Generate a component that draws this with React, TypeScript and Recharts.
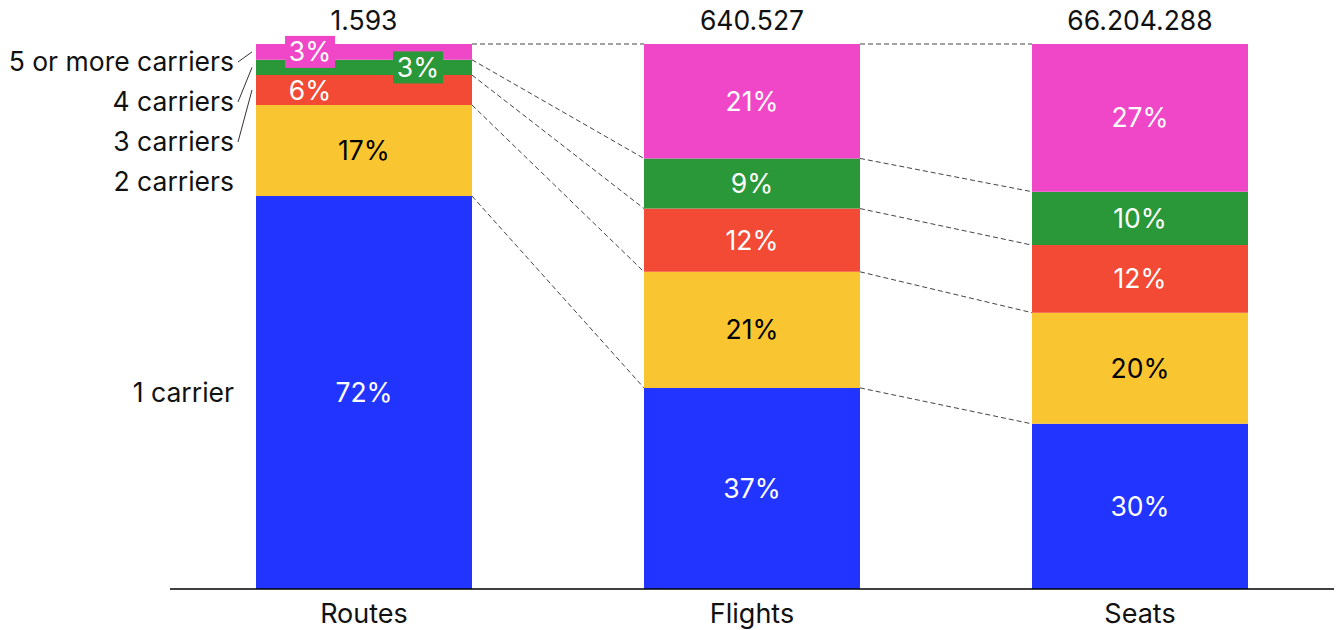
import { BarChart, Bar, XAxis, YAxis, Rectangle } from 'recharts';

const categories = ['Routes', 'Flights', 'Seats'];
const totals = ['1.593', '640.527', '66.204.288'];
const seriesNames = ['1 carrier', '2 carriers', '3 carriers', '4 carriers', '5 or more carriers'];

// share of each column (%), bottom to top
const oneCarrier = [72.1, 36.9, 30.3];
const twoCarriers = [16.7, 21.3, 20.4];
const threeCarriers = [5.5, 11.6, 12.4];
const fourCarriers = [2.8, 9.2, 9.8];
const fivePlusCarriers = [2.9, 21.0, 27.1];

const seriesValues = [oneCarrier, twoCarriers, threeCarriers, fourCarriers, fivePlusCarriers];
const seriesKeys = ['c1', 'c2', 'c3', 'c4', 'c5'];
const seriesColors = ['#2234ff', '#f9c632', '#f24a35', '#2a9838', '#f047c8'];
const labelColors = ['#fff', '#000', '#fff', '#fff', '#fff'];

const rows = categories.map((name, i) => {
  const row: Record<string, string | number> = { name };
  seriesKeys.forEach((key, k) => {
    row[key] = seriesValues[k][i];
  });
  return row;
});

const WIDTH = 1337;
const HEIGHT = 630;
const MARGIN = { top: 44, right: 3, bottom: 11, left: 170 };
const STEP = (WIDTH - MARGIN.left - MARGIN.right) / categories.length;
const FONT = 'Inter, "Noto Sans", sans-serif';
const FONT_SIZE = 26.5;

// thin segments get their label moved sideways (fraction of bar width), some on a colored tag
const thinSpots: Record<number, { dx: number; tag: boolean }> = {
  2: { dx: 0.25, tag: false },
  3: { dx: 0.75, tag: true },
  4: { dx: 0.25, tag: true },
};

const cumulative = (k: number, i: number) =>
  seriesValues.slice(0, k + 1).reduce((sum, arr) => sum + arr[i], 0);

const CategoryTick = (props: any) => {
  const { x, y, payload } = props;
  return (
    <text x={x} y={y + 34} textAnchor="middle" fontFamily={FONT} fontSize={27} fill="#111">
      {payload.value}
    </text>
  );
};

// top segment of every column also draws that column's annotations
const ColumnTop = (props: any) => {
  const { x, y, width, height, fill } = props;
  const i = typeof props.index === 'number' ? props.index : categories.indexOf(props.payload?.name);
  const top = seriesValues.length - 1;
  const ppu = height / seriesValues[top][i];
  const base = y + cumulative(top, i) * ppu;
  const segTop = (k: number, col: number) => base - cumulative(k, col) * ppu;
  const segMid = (k: number) => base - (cumulative(k, i) - seriesValues[k][i] / 2) * ppu;

  return (
    <g>
      <Rectangle x={x} y={y} width={width} height={height} fill={fill} />

      {i < categories.length - 1 &&
        seriesValues.map((_, k) => (
          <line
            key={`c${k}`}
            x1={x + width}
            y1={segTop(k, i)}
            x2={x + STEP}
            y2={segTop(k, i + 1)}
            stroke="#444"
            strokeWidth={1}
            strokeDasharray="5 3"
          />
        ))}

      {seriesValues.map((arr, k) => {
        const segHeight = arr[i] * ppu;
        const spot = segHeight < 40 ? thinSpots[k] : undefined;
        const cx = spot ? x + width * spot.dx : x + width / 2;
        const cy = segMid(k);
        return (
          <g key={`l${k}`}>
            {spot?.tag && <rect x={cx - 25} y={cy - 16} width={50} height={32} fill={seriesColors[k]} />}
            <text
              x={cx}
              y={cy}
              dy="0.36em"
              textAnchor="middle"
              fontFamily={FONT}
              fontSize={FONT_SIZE}
              fill={labelColors[k]}
            >
              {`${Math.round(arr[i])}%`}
            </text>
          </g>
        );
      })}

      <text x={x + width / 2} y={y - 14} textAnchor="middle" fontFamily={FONT} fontSize={FONT_SIZE} fill="#111">
        {totals[i]}
      </text>

      {i === 0 &&
        seriesNames.map((name, k) => {
          const ly = k === 0 ? segMid(0) : y + 17 + 40 * (top - k);
          return (
            <g key={`n${k}`}>
              <text
                x={x - 22}
                y={ly}
                dy="0.36em"
                textAnchor="end"
                fontFamily={FONT}
                fontSize={FONT_SIZE}
                fill="#111"
              >
                {name}
              </text>
              {k >= 2 && <line x1={x - 18} y1={ly + 1} x2={x - 4} y2={segMid(k)} stroke="#333" strokeWidth={1} />}
            </g>
          );
        })}
    </g>
  );
};

export default function App() {
  return (
    <div style={{ position: 'absolute', left: 0, top: 0, width: WIDTH, height: HEIGHT, background: '#fff' }}>
      <BarChart width={WIDTH} height={HEIGHT} data={rows} margin={MARGIN} barSize={216}>
        <XAxis
          dataKey="name"
          height={30}
          axisLine={{ stroke: '#000', strokeWidth: 1.5 }}
          tickLine={false}
          tickSize={0}
          tickMargin={0}
          tick={<CategoryTick />}
        />
        <YAxis hide domain={[0, 100]} />
        {seriesKeys.map((key, k) => (
          <Bar
            key={key}
            dataKey={key}
            name={seriesNames[k]}
            stackId="share"
            fill={seriesColors[k]}
            isAnimationActive={false}
            shape={k === seriesKeys.length - 1 ? ColumnTop : undefined}
          />
        ))}
      </BarChart>
    </div>
  );
}
